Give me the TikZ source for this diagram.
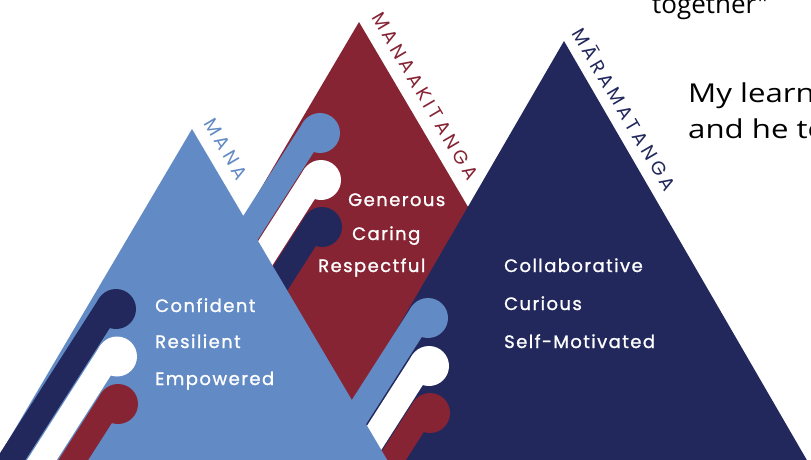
\documentclass[tikz,border=0pt]{standalone}
\usepackage{fontspec}
\usetikzlibrary{calc}
\newfontfamily\bodyf[LetterSpace=8,FakeBold=1.2]{Poppins}
\newfontfamily\labf[LetterSpace=20]{Poppins}
\newfontfamily\handf[FakeStretch=1.2]{Open Sans}
\newfontfamily\handnarrow{Open Sans}
\definecolor{lblue}{RGB}{98,138,197}
\definecolor{dred}{RGB}{134,36,52}
\definecolor{navy}{RGB}{34,40,92}
\newcommand\pinshape[3]{%
  \fill[#1] (#2,#3) circle (20pt);
  \draw[#1, line width=25pt, line cap=round] ($(#2,#3)+(-6.3,-4.0)$) -- ++(-161.7,252.6);
}
\tikzset{
  word/.style={text=white, anchor=base west, inner sep=0pt, font=\bodyf\fontsize{18}{20}\selectfont},
  peak/.style={inner sep=0pt, rotate=-59.5, font=\labf\fontsize{19}{21}\selectfont},
  hand/.style={text=black, anchor=base west, inner sep=0pt, font=\handf\fontsize{26}{28}\selectfont}
}
\begin{document}
\begin{tikzpicture}[x=1pt,y=-1pt]
\useasboundingbox (0,0) rectangle (811,459);
\fill[white] (0,0) rectangle (811,459);
\clip (0,0) rectangle (811,459);
% back mountains
\fill[dred] (359,22) -- (359+270,22+458) -- (359-270,22+458) -- cycle;
\fill[navy] (564,41) -- (564+255,41+440) -- (564-255,41+440) -- cycle;
% middle pins
\pinshape{lblue}{320}{133}
\pinshape{white}{321}{180}
\pinshape{navy}{322}{227}
% right pins
\pinshape{lblue}{428}{318}
\pinshape{white}{429}{366}
\pinshape{dred}{430}{413}
% front mountain
\fill[lblue] (192,129) -- (192+210,129+356) -- (192-210,129+356) -- cycle;
% left pins
\pinshape{navy}{116}{309}
\pinshape{white}{117}{356.5}
\pinshape{dred}{118}{404}
% labels
\node[peak, text=lblue] (mana) at (226,149) {MANA};
\node[peak, text=dred] (manaaki) at (425,96) {MANAAKITANGA};
\node[peak, text=navy] (marama) at (625,109) {MĀRAMATANGA};
% words
\node[word] (w1) at (155,312) {Confident};
\node[word] (w2) at (155,348) {Resilient};
\node[word] (w3) at (155,385) {Empowered};
\node[word] (w4) at (348,206) {Generous};
\node[word] (w5) at (352,240) {Caring};
\node[word] (w6) at (318,272) {Respectful};
\node[word] (w7) at (504,272) {Collaborative};
\node[word] (w8) at (504,310) {Curious};
\node[word] (w9) at (504,348) {Self-Motivated};
% handwritten quote fragments
\node[hand, font=\handnarrow\fontsize{26}{28}\selectfont] (h1) at (652,13) {together"};
\node[hand] (h2) at (688,102) {My learn};
\node[hand] (h3) at (688,138) {and he te};
\end{tikzpicture}
\end{document}
